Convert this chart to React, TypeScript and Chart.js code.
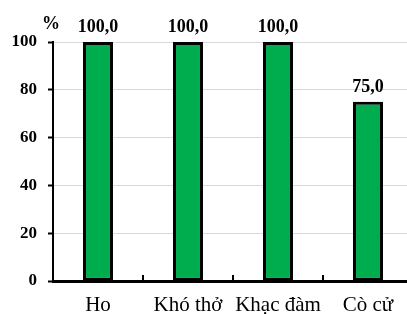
import React, { useEffect, useRef } from "react";
import { Chart, registerables } from "chart.js";

Chart.register(...registerables);

const categories = ["Ho", "Khó thở", "Khạc đàm", "Cò cử"];
const values = [100, 100, 100, 75];
const valueLabels = ["100,0", "100,0", "100,0", "75,0"];
const yUnit = "%";

const SERIF = "'Liberation Serif', 'Times New Roman', serif";

const overlayPlugin = {
  id: "overlay",
  afterDatasetsDraw(chart: any) {
    const { ctx, chartArea } = chart;
    const meta = chart.getDatasetMeta(0);
    const xs = chart.scales.x;
    ctx.save();
    // value labels
    ctx.fillStyle = "#000";
    ctx.font = `bold 18px ${SERIF}`;
    ctx.textAlign = "center";
    ctx.textBaseline = "alphabetic";
    meta.data.forEach((bar: any, i: number) => {
      ctx.fillText(valueLabels[i], bar.x, bar.y - 10);
    });
    // unit label
    ctx.font = `bold 18px ${SERIF}`;
    ctx.fillText(yUnit, chartArea.left - 2, 29);
    // inward x ticks at category boundaries
    ctx.strokeStyle = "#000";
    ctx.lineWidth = 2;
    for (let i = 1; i < categories.length; i++) {
      const x = (xs.getPixelForValue(i - 1) + xs.getPixelForValue(i)) / 2;
      ctx.beginPath();
      ctx.moveTo(x, chartArea.bottom);
      ctx.lineTo(x, chartArea.bottom - 6);
      ctx.stroke();
    }
    ctx.restore();
  },
};

export default function App() {
  const ref = useRef<HTMLCanvasElement>(null);
  useEffect(() => {
    const canvas = ref.current!;
    const chart = new Chart(canvas, {
      type: "bar",
      data: {
        labels: categories,
        datasets: [
          {
            data: values,
            backgroundColor: "#00AD4E",
            borderColor: "#000",
            borderWidth: 3,
            borderSkipped: false,
            barPercentage: 0.333,
            categoryPercentage: 1,
          },
        ],
      },
      options: {
        responsive: false,
        animation: false,
        layout: { padding: { top: 42, right: 7, left: 0, bottom: 0 } },
        plugins: { legend: { display: false }, tooltip: { enabled: false } },
        scales: {
          x: {
            grid: { display: false, drawTicks: false },
            border: { display: true, color: "#000", width: 3 },
            ticks: {
              color: "#000",
              font: { family: SERIF, size: 21 },
              padding: 12,
              maxRotation: 0,
              autoSkip: false,
            },
            afterFit: (s: any) => {
              s.height = 33;
            },
          },
          y: {
            min: 0,
            max: 100,
            ticks: {
              stepSize: 20,
              color: "#000",
              font: { family: SERIF, size: 17, weight: "bold" },
              padding: 11,
            },
            grid: {
              color: "#d9d9d9",
              lineWidth: 1,
              tickLength: 5,
              tickColor: "#000",
              tickWidth: 2,
            },
            border: { display: true, color: "#000", width: 2 },
            afterFit: (s: any) => {
              s.width = 53;
            },
          },
        },
      },
      plugins: [overlayPlugin],
    });
    return () => chart.destroy();
  }, []);
  return (
    <div
      style={{
        position: "absolute",
        left: 0,
        top: 0,
        width: 407,
        height: 314,
        overflow: "hidden",
        background: "#fff",
      }}
    >
      <canvas ref={ref} width={420} height={314} style={{ display: "block" }} />
    </div>
  );
}
